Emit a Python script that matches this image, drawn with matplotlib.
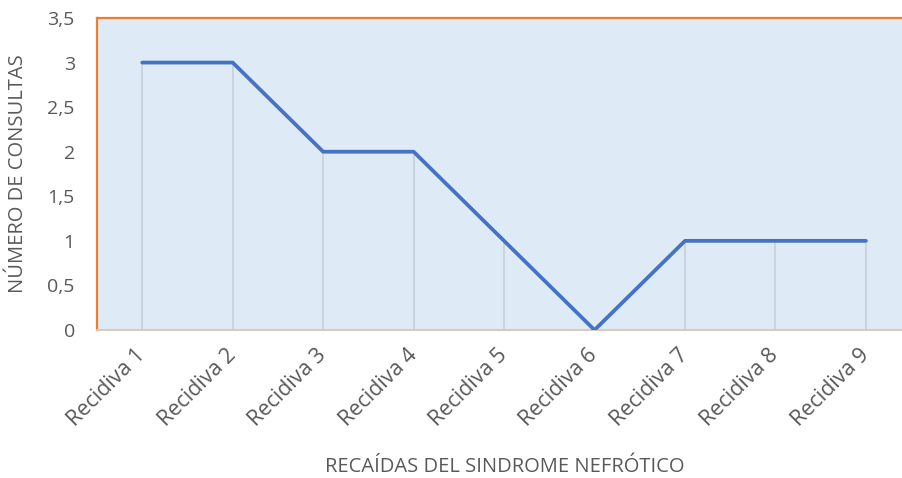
import matplotlib.pyplot as plt

categorias = ['Recidiva 1', 'Recidiva 2', 'Recidiva 3', 'Recidiva 4', 'Recidiva 5',
              'Recidiva 6', 'Recidiva 7', 'Recidiva 8', 'Recidiva 9']
consultas = [3, 3, 2, 2, 1, 0, 1, 1, 1]
yticks = [0, 0.5, 1, 1.5, 2, 2.5, 3, 3.5]
ytick_labels = ['0', '0,5', '1', '1,5', '2', '2,5', '3', '3,5']

plt.rcParams['font.family'] = ['Open Sans', 'DejaVu Sans']
gris = '#595959'

fig = plt.figure(figsize=(9.03, 4.78), dpi=100)
ax = fig.add_axes([97/903, 1 - 330/478, 1 - 97/903, (330 - 18)/478])
ax.set_facecolor('#DEEAF6')

x = list(range(len(categorias)))
# lineas de caida
ax.vlines(x, 0, consultas, color='#C9D2DB', linewidth=1.3, zorder=2)
ax.plot(x, consultas, color='#4472C4', linewidth=2.7, solid_capstyle='round',
        solid_joinstyle='round', zorder=3)

ax.set_xlim(-0.5, 8.41)
ax.set_ylim(0, 3.5)
ax.set_yticks(yticks)
ax.set_yticklabels(ytick_labels)
ax.set_xticks(x)
ax.set_xticklabels(categorias, rotation=45, ha='right', va='center',
                   rotation_mode='anchor')

ax.tick_params(axis='y', length=0, pad=16, labelsize=14, labelcolor=gris)
ax.tick_params(axis='x', length=0, pad=16, labelsize=15.5, labelcolor=gris)

for s in ['top', 'left']:
    ax.spines[s].set_color('#ED7D31')
    ax.spines[s].set_linewidth(1.6)
ax.spines['right'].set_visible(False)
ax.spines['bottom'].set_color('#D9C6B6')
ax.spines['bottom'].set_linewidth(1.3)

ax.set_ylabel('NÚMERO DE CONSULTAS', fontsize=14.5, color=gris)
ax.set_xlabel('RECAÍDAS DEL SINDROME NEFRÓTICO', fontsize=14.5, color=gris)
ax.yaxis.set_label_coords(-79/806, 0.5)
ax.xaxis.set_label_coords((505 - 97)/806, -(467 - 330)/312)
ax.xaxis.label.set_va('center')
ax.yaxis.label.set_va('center')

fig.savefig('out.png', dpi=100)
